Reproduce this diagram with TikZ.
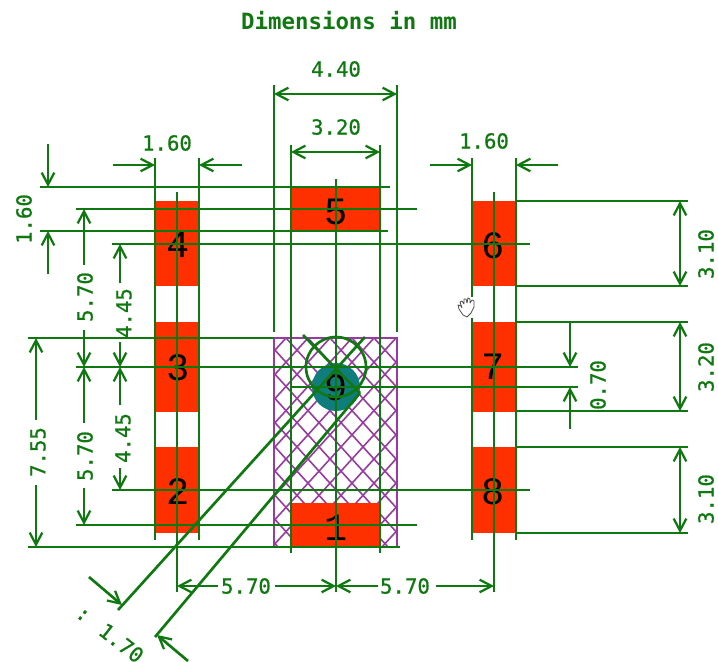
\documentclass[tikz,border=0pt]{standalone}
\usepackage{fontspec}
\setmainfont{DejaVu Sans Mono}
\newfontfamily\padfont{Liberation Mono}
\newfontfamily\dimfont[FakeBold=0.8]{DejaVu Sans Mono}
\usetikzlibrary{arrows.meta}
\definecolor{dimgreen}{RGB}{16,120,16}
\definecolor{padred}{RGB}{255,48,0}
\definecolor{hatchp}{RGB}{150,60,160}
\definecolor{teal0}{RGB}{16,125,125}
\tikzset{
 x=0.75pt,y=-0.75pt,
 dimline/.style={draw=dimgreen,line width=2pt},
 dimarrow/.style={dimline,-{Straight Barb[length=9pt,width=9.5pt,line width=1.7pt]}},
 dimboth/.style={dimline,{Straight Barb[length=9pt,width=9.5pt,line width=1.7pt]}-{Straight Barb[length=9pt,width=9.5pt,line width=1.7pt]}},
 pad/.style={fill=padred,draw=none},
 dimtext/.style={text=dimgreen,font=\dimfont\fontsize{15.5}{15.5}\selectfont,inner sep=0pt},
 padtext/.style={text=black,font=\padfont\fontsize{29}{29}\selectfont,inner sep=0pt},
}
\begin{document}
\begin{tikzpicture}
\useasboundingbox (0,0) rectangle (718,661);
% hatch
\begin{scope}
\clip (274,338) rectangle (397,547);
\foreach \k in {-44,-22,...,770}{
 \draw[hatchp,line width=1.2pt] (\k,338) -- ++(200,220);
 \draw[hatchp,line width=1.2pt] (\k,338) -- ++(-200,220);
}
\end{scope}
\draw[hatchp,line width=1.4pt] (274,338) rectangle (397,547);
% pads
\fill[pad] (155,201) rectangle (199,286);
\fill[pad] (155,322) rectangle (199,412);
\fill[pad] (155,447) rectangle (199,533);
\fill[pad] (292,187) rectangle (380,231);
\fill[pad] (292,503) rectangle (380,547);
\fill[pad] (472,201) rectangle (516,286);
\fill[pad] (472,322) rectangle (516,412);
\fill[pad] (472,447) rectangle (516,533);
\fill[teal0] (336,387) circle (24);
% pad labels
\node[padtext] (p1) at (336,528) {1};
\node[padtext] (p2) at (178,492) {2};
\node[padtext] (p3) at (178,368) {3};
\node[padtext] (p4) at (178,245) {4};
\node[padtext] (p5) at (336,212) {5};
\node[padtext] (p6) at (493,246) {6};
\node[padtext] (p7) at (493,367) {7};
\node[padtext] (p8) at (493,492) {8};
\node[padtext] (p9) at (336,388) {9};
% extension lines
\foreach \y/\a/\b in {187/40/390,209/76/417,231/40/388,244/112/530,338/28/274,367/76/578,387/292/578,490/112/530,525/76/417,547/28/400,201/516/688,286/516/688,322/516/688,411/516/688,447/516/688,533/516/688}
 \draw[dimline] (\a,\y) -- (\b,\y);
\foreach \x/\a/\b in {155/158/540,199/158/540,177/192/592,274/85/332,397/85/332,291/145/553,380/145/553,336/179/592,472/158/540,516/158/540,494/192/592}
 \draw[dimline] (\x,\a) -- (\x,\b);
\draw[dimline] (336,367) circle (30);
\draw[dimline] (303,335) -- (360,393);
\draw[dimline] (118,610) -- (365,337);
\draw[dimline] (155,637) -- (360,393);
% dimension arrows
\draw[dimarrow] (113,165) -- (155,165);
\draw[dimarrow] (242,165) -- (199,165);
\draw[dimarrow] (430,165) -- (472,165);
\draw[dimarrow] (558,165) -- (516,165);
\draw[dimboth] (274,94) -- (397,94);
\draw[dimboth] (291,152) -- (380,152);
\draw[dimarrow] (48,144) -- (48,187);
\draw[dimarrow] (48,274) -- (48,231);
\draw[dimarrow] (84,265) -- (84,209);
\draw[dimarrow] (84,330) -- (84,367);
\draw[dimarrow] (84,423) -- (84,367);
\draw[dimarrow] (84,488) -- (84,525);
\draw[dimarrow] (120,283) -- (120,244);
\draw[dimarrow] (120,342) -- (120,367);
\draw[dimarrow] (120,405) -- (120,367);
\draw[dimarrow] (120,468) -- (120,490);
\draw[dimarrow] (36,420) -- (36,338);
\draw[dimarrow] (36,485) -- (36,547);
\draw[dimarrow] (218,586) -- (177,586);
\draw[dimarrow] (275,586) -- (336,586);
\draw[dimarrow] (378,586) -- (336,586);
\draw[dimarrow] (436,586) -- (494,586);
\draw[dimboth] (680,201) -- (680,286);
\draw[dimboth] (680,322) -- (680,411);
\draw[dimboth] (680,447) -- (680,533);
\draw[dimarrow] (570,322) -- (570,367);
\draw[dimarrow] (570,429) -- (570,387);
\draw[dimarrow] (89,577) -- (122,605);
\draw[dimarrow] (188,661) -- (157,635);
% hand cursor
\fill[white] (457,297) rectangle (477,318);
\draw[black!70,fill=white,line width=0.6pt,line join=round]
 (463,315) -- (459,309) -- (458,305) -- (461,306) -- (462,308) -- (460,302) -- (462,301) -- (464,304)
 -- (464,299) -- (466,299) -- (467,303) -- (468,298) -- (470,299) -- (470,303) -- (472,300) -- (474,301)
 -- (474,307) -- (471,313) -- (467,317) -- cycle;
% texts
\node[dimtext,font=\fontsize{16.8}{16.8}\selectfont\bfseries] (title) at (349,21) {Dimensions in mm};
\node[dimtext] (d1) at (167,143) {1.60};
\node[dimtext] (d2) at (484,141) {1.60};
\node[dimtext] (d3) at (336,69) {4.40};
\node[dimtext] (d4) at (336,127) {3.20};
\node[dimtext,rotate=90] (d5) at (24,219) {1.60};
\node[dimtext,rotate=90] (d6) at (85,297) {5.70};
\node[dimtext,rotate=90] (d7) at (124,313) {4.45};
\node[dimtext,rotate=90] (d8) at (85,456) {5.70};
\node[dimtext,rotate=90] (d9) at (123,438) {4.45};
\node[dimtext,rotate=90] (d10) at (38,452) {7.55};
\node[dimtext] (d11) at (246,586) {5.70};
\node[dimtext] (d12) at (405,586) {5.70};
\node[dimtext,rotate=90] (d13) at (706,254) {3.10};
\node[dimtext,rotate=90] (d14) at (706,367) {3.20};
\node[dimtext,rotate=90] (d15) at (706,499) {3.10};
\node[dimtext,rotate=90] (d16) at (598,385) {0.70};
\node[dimtext,rotate=-38] (d17) at (110,634) {: 1.70};
\end{tikzpicture}
\end{document}
